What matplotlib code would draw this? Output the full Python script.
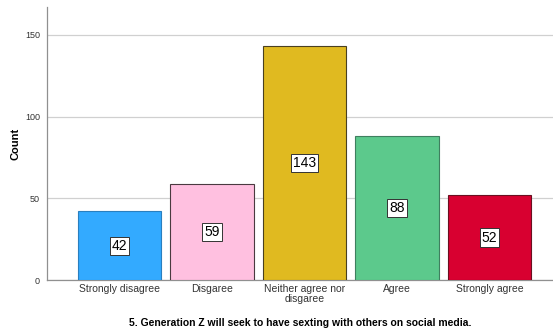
import matplotlib
matplotlib.use("Agg")
import matplotlib.pyplot as plt

categories = ["Strongly disagree", "Disgaree", "Neither agree nor\ndisgaree", "Agree", "Strongly agree"]
counts = [42, 59, 143, 88, 52]
colors = ["#33AAFF", "#FFC0E0", "#E0BA20", "#5CC98C", "#D80030"]
edges = ["#2A7FBF", "#4A3A40", "#4A4020", "#3F7F5F", "#6A1020"]
y_ticks = [0, 50, 100, 150]

plt.rcParams["font.family"] = ["Liberation Sans", "DejaVu Sans"]

fig = plt.figure(figsize=(5.53, 3.31), dpi=100)
ax = fig.add_axes([0.085, 0.154, 0.915, 0.825])

x = list(range(len(categories)))
ax.bar(x, counts, width=0.9, color=colors, edgecolor=edges, linewidth=0.8, zorder=3)

for xi, v in zip(x, counts):
    ax.text(xi, v / 2, str(v), ha="center", va="center", fontsize=10, zorder=4,
            bbox=dict(boxstyle="square,pad=0.15", facecolor="white", edgecolor="#333333", linewidth=0.7))

ax.set_xlim(-0.784, 4.686)
ax.set_ylim(0, 167)
ax.set_yticks(y_ticks)
ax.set_yticklabels([str(t) for t in y_ticks], fontsize=6.5, color="#333333")
ax.set_xticks(x)
ax.set_xticklabels(categories, fontsize=7.5, color="#333333", linespacing=1.0)
ax.tick_params(axis="both", length=0, pad=3)
ax.tick_params(axis="y", pad=5)

ax.grid(axis="y", color="#D0D0D0", linewidth=0.9, zorder=0)
for side in ["top", "right"]:
    ax.spines[side].set_visible(False)
for side in ["left", "bottom"]:
    ax.spines[side].set_color("#909090")
    ax.spines[side].set_linewidth(0.9)

ax.set_ylabel("Count", fontsize=8, fontweight="bold", labelpad=3)
ax.set_xlabel("5. Generation Z will seek to have sexting with others on social media.",
              fontsize=7.5, fontweight="bold", labelpad=10)

fig.savefig("out.png", dpi=100)
